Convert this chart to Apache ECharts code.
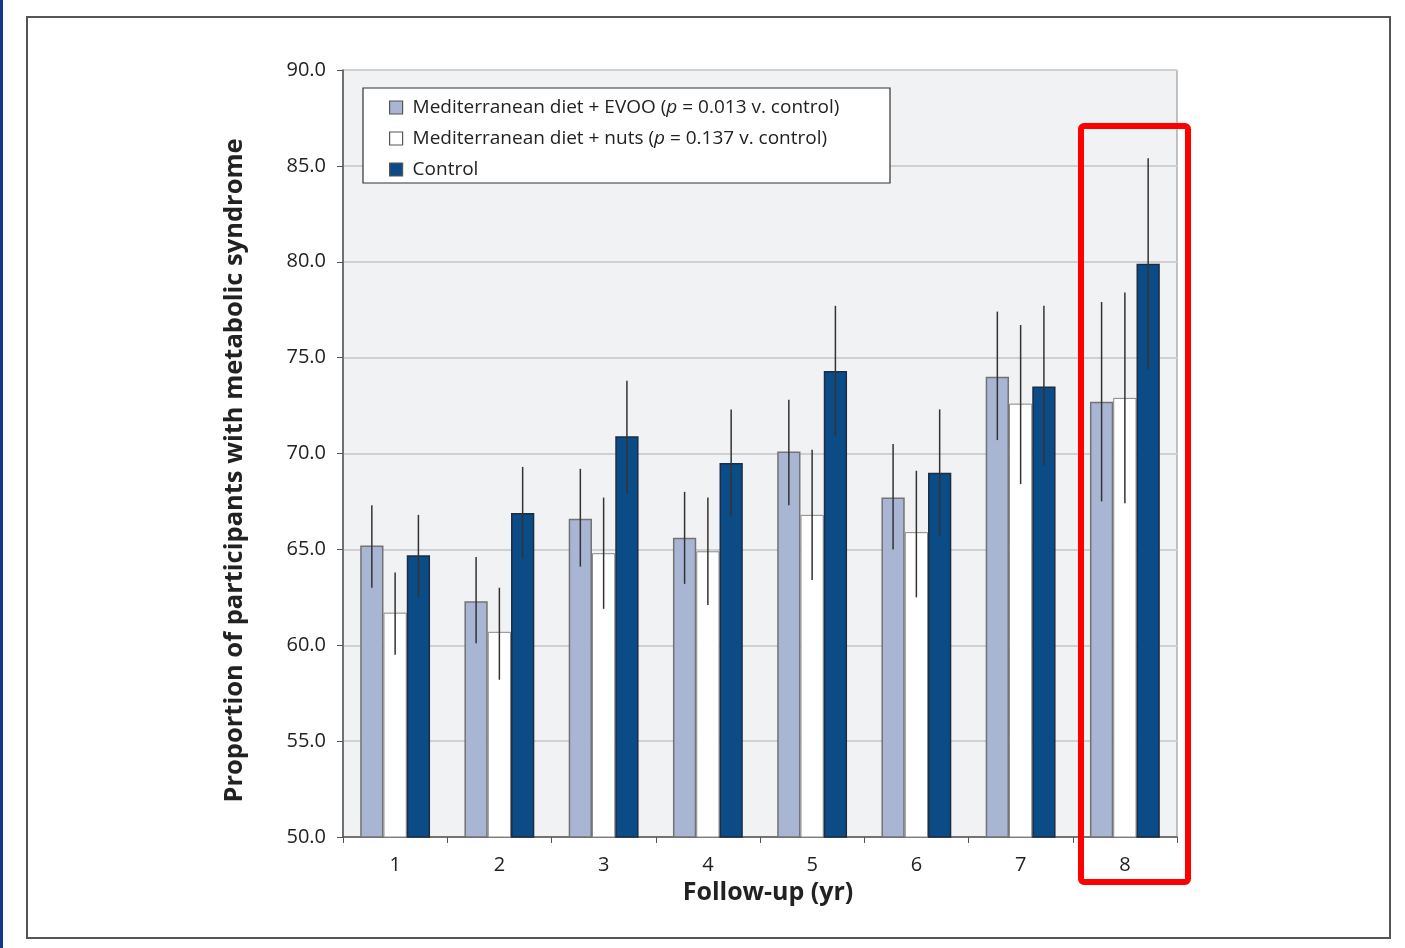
<!DOCTYPE html>
<html><head><meta charset="utf-8">
<script src="https://cdn.jsdelivr.net/npm/echarts@6/dist/echarts.min.js"></script>
<style>html,body{margin:0;padding:0;background:#fff}#c{width:1405px;height:948px}</style>
</head><body><div id="c"></div>
<script>
const categories = ['1','2','3','4','5','6','7','8'];
const evoo    = [65.2, 62.3, 66.6, 65.6, 70.1, 67.7, 74.0, 72.7];
const evooLo  = [63.0, 60.1, 64.1, 63.2, 67.3, 65.0, 70.7, 67.5];
const evooHi  = [67.3, 64.6, 69.2, 68.0, 72.8, 70.5, 77.4, 77.9];
const nuts    = [61.7, 60.7, 64.8, 64.9, 66.8, 65.9, 72.6, 72.9];
const nutsLo  = [59.5, 58.2, 61.9, 62.1, 63.4, 62.5, 68.4, 67.4];
const nutsHi  = [63.8, 63.0, 67.7, 67.7, 70.2, 69.1, 76.7, 78.4];
const ctrl    = [64.7, 66.9, 70.9, 69.5, 74.3, 69.0, 73.5, 79.9];
const ctrlLo  = [62.5, 64.5, 67.9, 66.7, 70.9, 65.7, 69.4, 74.4];
const ctrlHi  = [66.8, 69.3, 73.8, 72.3, 77.7, 72.3, 77.7, 85.4];
const yTicks = [50, 55, 60, 65, 70, 75, 80, 85, 90];
const seriesNames = [
  'Mediterranean diet + EVOO (p = 0.013 v. control)',
  'Mediterranean diet + nuts (p = 0.137 v. control)',
  'Control'
];
const FONT = 'Open Sans';
const GAP = 0.33;

const chart = echarts.init(document.getElementById('c'), null, {renderer:'canvas'});

function errSeries(idx, lo, hi) {
  const data = categories.map((c, i) => [i, lo[i], hi[i]]);
  return {
    type: 'custom', name: 'err' + idx, z: 5, silent: true,
    data: data,
    renderItem: function (params, api) {
      const ci = api.value(0);
      const pLo = api.coord([ci, api.value(1)]);
      const pHi = api.coord([ci, api.value(2)]);
      const catW = api.size([1, 0])[0];
      const barW = catW * (1 - GAP) / 3;
      const x = pLo[0] + (idx - 1) * barW;
      return {
        type: 'line',
        shape: {x1: x, y1: pHi[1], x2: x, y2: pLo[1]},
        style: {stroke: '#333', lineWidth: 1.5}
      };
    }
  };
}

function legendFmt(name) {
  if (name === 'Control') return '{n|Control}';
  const m = name.match(/^(.*\()p( = .*)$/);
  return '{n|' + m[1] + '}{i|p}{n|' + m[2] + '}';
}

const option = {
  backgroundColor: '#fff',
  animation: false,
  textStyle: {fontFamily: FONT},
  grid: {left: 343, right: 228, top: 70, bottom: 111, show: true,
         backgroundColor: '#f1f2f4', borderColor: '#8a8a8a', borderWidth: 1},
  legend: {
    orient: 'vertical', left: 384, top: 93, z: 10,
    data: seriesNames,
    icon: 'rect',
    itemWidth: 13, itemHeight: 13, itemGap: 12,
    formatter: legendFmt,
    itemStyle: {borderWidth: 1.2, borderColor: '#555'},
    textStyle: {
      fontFamily: FONT, fontSize: 19, color: '#222', padding: [0, 0, 0, 5],
      rich: {
        n: {fontFamily: FONT, fontSize: 19, color: '#222'},
        i: {fontFamily: FONT, fontSize: 19, color: '#222', fontStyle: 'italic'}
      }
    }
  },
  xAxis: {
    type: 'category', data: categories,
    axisLine: {lineStyle: {color: '#555', width: 1.5}},
    axisTick: {show: true, length: 6, inside: false, lineStyle: {color: '#555'}},
    axisLabel: {fontSize: 20, color: '#222', margin: 18},
    name: 'Follow-up (yr)', nameLocation: 'middle', nameGap: 37,
    nameTextStyle: {fontSize: 25, fontWeight: 'bold', color: '#222', padding: [0,0,0,16]}
  },
  yAxis: {
    type: 'value', min: 50, max: 90, interval: 5,
    axisLine: {show: true, lineStyle: {color: '#555', width: 1.5}},
    axisTick: {show: true, length: 6, lineStyle: {color: '#555'}},
    axisLabel: {fontSize: 20, color: '#222', margin: 17,
      formatter: v => yTicks.indexOf(v) >= 0 ? v.toFixed(1) : ''},
    splitLine: {lineStyle: {color: '#cfd0d2', width: 2}},
    name: 'Proportion of participants with metabolic syndrome',
    nameLocation: 'middle', nameGap: 95,
    nameTextStyle: {fontSize: 25.5, fontWeight: 'bold', color: '#222', padding: [0, 34, 0, 0]}
  },
  series: [
    {name: seriesNames[0], type: 'bar', data: evoo, barGap: '0%', barCategoryGap: (GAP*100)+'%',
     itemStyle: {color: '#a8b5d3', borderColor: '#737373', borderWidth: 1.5}},
    {name: seriesNames[1], type: 'bar', data: nuts, barGap: '0%', barCategoryGap: (GAP*100)+'%',
     itemStyle: {color: '#ffffff', borderColor: '#888', borderWidth: 1}},
    {name: seriesNames[2], type: 'bar', data: ctrl, barGap: '0%', barCategoryGap: (GAP*100)+'%',
     itemStyle: {color: '#0b4c87', borderColor: '#1c2c44', borderWidth: 1.5}},
    errSeries(0, evooLo, evooHi),
    errSeries(1, nutsLo, nutsHi),
    errSeries(2, ctrlLo, ctrlHi)
  ],
  graphic: [
    {type: 'rect', z: 1, shape: {x: 27, y: 17, width: 1363, height: 921},
     style: {fill: 'none', stroke: '#555', lineWidth: 2}},
    {type: 'rect', z: 1, shape: {x: 0, y: 0, width: 3, height: 948},
     style: {fill: '#12398a'}},
    {type: 'rect', z: 6, shape: {x: 363, y: 88, width: 527, height: 95},
     style: {fill: '#fff', stroke: '#333', lineWidth: 1.2}},
    {type: 'rect', z: 20, shape: {x: 1081, y: 126, width: 107, height: 756, r: 3},
     style: {fill: 'none', stroke: '#ff0000', lineWidth: 6}}
  ]
};
chart.setOption(option);
</script></body></html>
